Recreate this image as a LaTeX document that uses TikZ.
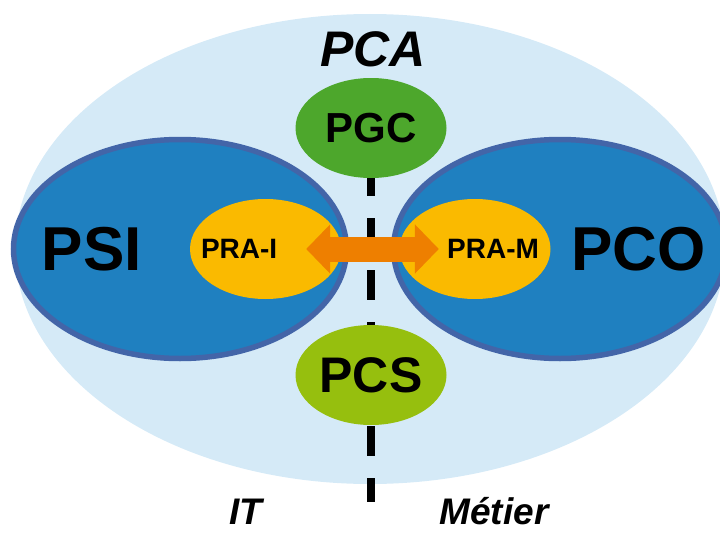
\documentclass[tikz,border=0pt]{standalone}
\usepackage{fontspec}
\setmainfont{Liberation Sans}
\usetikzlibrary{shapes.geometric,arrows.meta,positioning}
\definecolor{pcabg}{RGB}{213,234,247}
\definecolor{zoneblue}{RGB}{31,128,192}
\definecolor{zoneedge}{RGB}{67,101,168}
\definecolor{prayellow}{RGB}{250,186,0}
\definecolor{floworange}{RGB}{238,127,0}
\definecolor{pgcgreen}{RGB}{77,167,44}
\definecolor{pcsgreen}{RGB}{150,191,14}

\begin{document}
\begin{tikzpicture}
  [x=1pt,y=-1pt,
    every node/.style={inner sep=0pt},
    zone/.style={ellipse,fill=zoneblue,draw=zoneedge,line width=5.5pt,
      minimum width=333pt,minimum height=219pt},
    plan/.style={ellipse,minimum width=151pt,minimum height=100pt},
    pra/.style={plan,fill=prayellow},
    bigtxt/.style={font=\fontsize{62}{62}\selectfont\bfseries},
    midtxt/.style={font=\fontsize{28}{28}\selectfont\bfseries},
    titletxt/.style={font=\fontsize{50}{50}\selectfont\bfseries\itshape},
    sidetxt/.style={font=\fontsize{37}{37}\selectfont\bfseries\itshape},
    sepline/.style={line width=8pt,dash pattern=on 30pt off 22pt,dash phase=12pt},
    flow/.style={floworange,line width=25pt,
      {Triangle[width=48pt,length=24pt]}-{Triangle[width=48pt,length=24pt]}},
  ]
  \useasboundingbox (0,0) rectangle (720,535);
  \node[ellipse,fill=pcabg,minimum width=710pt,minimum height=470pt] (pca) at (370,249) {};
  \node[titletxt] (pcatxt) at (373,49) {PCA};
  \coordinate (septop) at (371,178);
  \coordinate (sepbot) at (371,502);
  \draw[sepline] (septop) -- (sepbot);
  \node[plan,fill=pgcgreen,font=\fontsize{42}{42}\selectfont\bfseries] (pgc) at (371,128) {PGC};
  \node[plan,fill=pcsgreen,font=\fontsize{50}{50}\selectfont\bfseries] (pcs) at (371,375) {PCS};
  \node[zone] (psi) at (180,249) {};
  \node[zone] (pco) at (560,249) {};
  \node[bigtxt,right=31pt of psi.west] (psitxt) {PSI};
  \node[bigtxt,left=23.5pt of pco.east] (pcotxt) {PCO};
  \node[pra] (prai) at (265.5,249) {};
  \node[pra] (pram) at (475,249) {};
  \node[midtxt,right=11pt of prai.west] (praitxt) {PRA-I};
  \node[midtxt,left=11.5pt of pram.east] (pramtxt) {PRA-M};
  \draw[flow] ([xshift=-35pt]prai.east) -- ([xshift=39.5pt]pram.west);
  \node[sidetxt,anchor=base] (it) at (246,524) {IT};
  \node[sidetxt,anchor=base] (metier) at (494,524) {Métier};
\end{tikzpicture}
\end{document}
